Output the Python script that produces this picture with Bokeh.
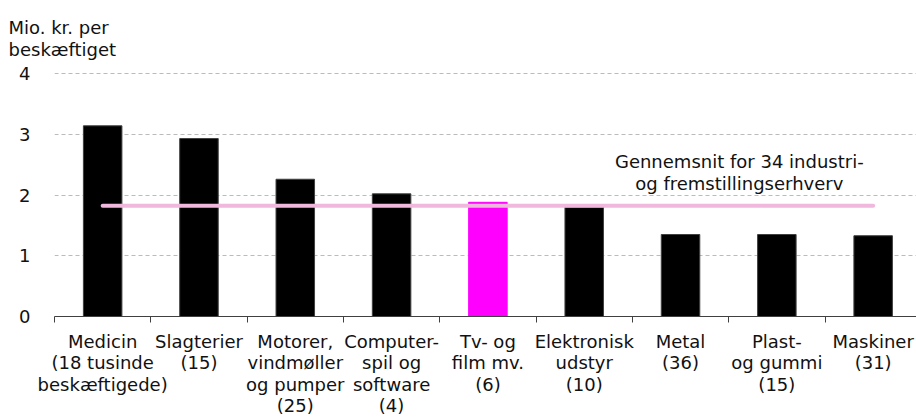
from bokeh.plotting import figure
from bokeh.models import Range1d, FixedTicker, Label, ColumnDataSource, Title
from bokeh.embed import file_html
from bokeh.resources import INLINE

categories = ["Medicin\n(18 tusinde\nbeskæftigede)", "Slagterier\n(15)", "Motorer,\nvindmøller\nog pumper\n(25)",
              "Computer-\nspil og\nsoftware\n(4)", "Tv- og\nfilm mv.\n(6)", "Elektronisk\nudstyr\n(10)",
              "Metal\n(36)", "Plast-\nog gummi\n(15)", "Maskiner\n(31)"]
values = [3.14, 2.93, 2.26, 2.02, 1.88, 1.80, 1.35, 1.35, 1.33]
bar_colors = ["#000000", "#000000", "#000000", "#000000", "#FF00FF", "#000000", "#000000", "#000000", "#000000"]
bar_lines = ["#404040", "#404040", "#404040", "#404040", "#FF00FF", "#404040", "#404040", "#404040", "#404040"]
average = 1.825
y_ticks = [0, 1, 2, 3, 4]
y_title = "Mio. kr. per\nbeskæftiget"
avg_label = "Gennemsnit for 34 industri-\nog fremstillingserhverv"

FONT = "DejaVu Sans"
FS = "18px"

idx = list(range(len(categories)))
src = ColumnDataSource(dict(x=idx, top=values, fill=bar_colors, line=bar_lines))

p = figure(width=916, height=419, output_backend="svg", toolbar_location=None,
           x_range=Range1d(-0.5, 8.45), y_range=Range1d(0, 4.1),
           min_border_left=54, min_border_right=0, min_border_top=67, min_border_bottom=102)
p.outline_line_color = None
p.background_fill_color = "white"

p.title = Title(text=y_title, align="left", offset=-46, text_font=FONT, text_font_size=FS,
                text_font_style="normal", text_color="#111111", standoff=15, text_line_height=1.03)

p.vbar(x="x", top="top", width=0.4, source=src, fill_color="fill", line_color="line", line_width=1)
p.line(x=[idx[0], idx[-1]], y=[average, average], line_color="#F0B8DC", line_width=4, line_cap="round")

# x axis
p.xaxis.ticker = FixedTicker(ticks=idx, minor_ticks=[i - 0.5 for i in range(len(categories) + 1)])
p.xaxis.major_label_overrides = {i: c for i, c in zip(idx, categories)}
p.xaxis.major_tick_line_color = None
p.xaxis.minor_tick_in = 0
p.xaxis.minor_tick_out = 6
p.xaxis.minor_tick_line_color = "#404040"
p.xaxis.axis_line_color = "#404040"
p.xaxis.major_label_standoff = 8
p.xaxis.major_label_text_font = FONT
p.xaxis.major_label_text_font_size = FS
p.xaxis.major_label_text_color = "#111111"
p.xaxis.major_label_text_line_height = 1.03

# y axis
p.yaxis.ticker = FixedTicker(ticks=y_ticks)
p.yaxis.axis_line_color = None
p.yaxis.major_tick_line_color = None
p.yaxis.minor_tick_line_color = None
p.yaxis.major_label_standoff = 18
p.yaxis.major_label_text_font = FONT
p.yaxis.major_label_text_font_size = FS
p.yaxis.major_label_text_color = "#111111"

p.xgrid.grid_line_color = None
p.ygrid.grid_line_color = "#BBBBBB"
p.ygrid.grid_line_dash = "4 3"
p.ygrid.grid_line_width = 1

p.add_layout(Label(x=6.61, y=2.72, text=avg_label, text_font=FONT, text_font_size=FS,
                   text_color="#111111", text_baseline="top", text_align="center", text_line_height=1.03))

open("out.html", "w").write(file_html(p, INLINE))
